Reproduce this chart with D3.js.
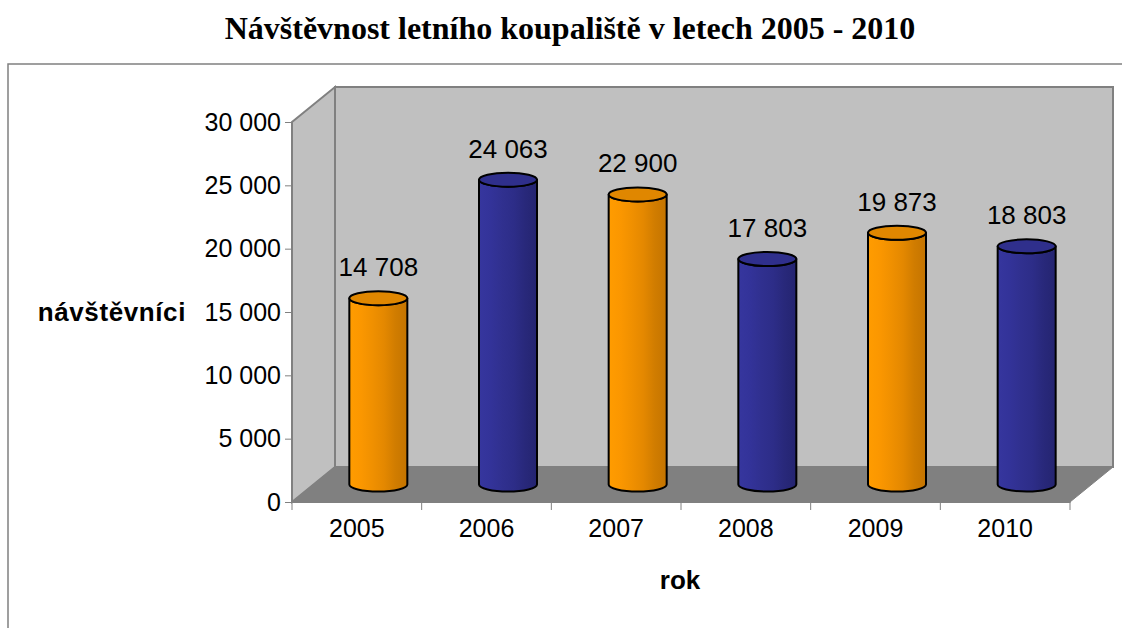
<!DOCTYPE html>
<html>
<head>
<meta charset="utf-8">
<script src="https://cdn.jsdelivr.net/npm/d3@7"></script>
<style>
  body { margin: 0; background: #fff; }
  svg { display: block; font-family: "Liberation Sans", Arial, sans-serif; }
</style>
</head>
<body>
<svg id="chart" width="1122" height="628"></svg>
<script>
/************** Data **************/
const years = ["2005", "2006", "2007", "2008", "2009", "2010"];
const visitors = [14708, 24063, 22900, 17803, 19873, 18803];
const yTicks = [0, 5000, 10000, 15000, 20000, 25000, 30000];
const seriesColor = ["orange", "blue", "orange", "blue", "orange", "blue"];

const titleText = "Návštěvnost letního koupaliště v letech 2005 - 2010";
const yTitle = "návštěvníci";
const xTitle = "rok";

/************** Layout **************/
const svg = d3.select("#chart");
const front = { left: 292, right: 1070, top: 122, bottom: 502 };
const depth = { dx: 43, dy: -35 };   // back wall offset
const cylR = 29, cylRy = 7;

const x = d3.scaleBand().domain(years).range([front.left, front.right]).padding(0);
const y = d3.scaleLinear().domain([0, 30000]).range([front.bottom, front.top]);
const fmt = v => d3.format(",")(v).replace(/,/g, " ");

// gradients for cylinder sides
const defs = svg.append("defs");
const palettes = {
  orange: { stops: ["#ff9c00", "#fb9700", "#f09000", "#e48800", "#d07c00", "#c47400"], top: "#e08700" },
  blue:   { stops: ["#36369e", "#333399", "#30308f", "#2d2d88", "#28287a", "#242470"], top: "#2f2f8c" }
};
Object.entries(palettes).forEach(([k, p]) => {
  const g = defs.append("linearGradient").attr("id", "grad-" + k)
    .attr("x1", "0%").attr("x2", "100%").attr("y1", "0%").attr("y2", "0%");
  p.stops.forEach((c, i) => g.append("stop")
    .attr("offset", (i / (p.stops.length - 1) * 100) + "%").attr("stop-color", c));
});

// outer frame
svg.append("rect").attr("x", 8).attr("y", 64).attr("width", 1130).attr("height", 600)
  .attr("fill", "none").attr("stroke", "#808080").attr("stroke-width", 1.5);

// title
svg.append("text")
  .attr("x", 570).attr("y", 39).attr("text-anchor", "middle")
  .style("font-family", "'Liberation Serif', 'Times New Roman', serif")
  .style("font-weight", "bold").style("font-size", "32px")
  .text(titleText);

/************** Walls & floor **************/
const wallStroke = "#808080";
const bx = v => v + depth.dx, by = v => v + depth.dy;

// back wall
svg.append("polygon")
  .attr("points", [[bx(front.left), by(front.top)], [bx(front.right), by(front.top)],
                   [bx(front.right), by(front.bottom)], [bx(front.left), by(front.bottom)]].join(" "))
  .attr("fill", "#c0c0c0").attr("stroke", wallStroke).attr("stroke-width", 2);

// side wall
svg.append("polygon")
  .attr("points", [[front.left, front.top], [bx(front.left), by(front.top)],
                   [bx(front.left), by(front.bottom)], [front.left, front.bottom]].join(" "))
  .attr("fill", "#c0c0c0").attr("stroke", wallStroke).attr("stroke-width", 2);

// floor
svg.append("polygon")
  .attr("points", [[front.left, front.bottom], [bx(front.left), by(front.bottom)],
                   [bx(front.right), by(front.bottom)], [front.right, front.bottom]].join(" "))
  .attr("fill", "#808080").attr("stroke", wallStroke).attr("stroke-width", 1);

/************** Axes **************/
const yAxis = svg.append("g").attr("transform", `translate(${front.left},0)`)
  .call(d3.axisLeft(y).tickValues(yTicks).tickFormat(fmt).tickSize(7).tickPadding(4));
yAxis.select(".domain").attr("stroke", "#808080").attr("stroke-width", 1);
yAxis.selectAll(".tick line").attr("stroke", "#808080");
yAxis.selectAll(".tick text").style("font-size", "25px").attr("fill", "#000")
  .style("font-family", "'Liberation Sans', Arial, sans-serif");

const xAxis = svg.append("g").attr("transform", `translate(0,${front.bottom})`)
  .call(d3.axisBottom(x).tickSize(0).tickPadding(17));
xAxis.select(".domain").attr("stroke", "#808080").attr("stroke-width", 1);
xAxis.selectAll(".tick text").style("font-size", "25px").attr("fill", "#000")
  .style("font-family", "'Liberation Sans', Arial, sans-serif");
// category separators
xAxis.selectAll("line.sep")
  .data(years.map(d => x(d)).concat([front.right]))
  .join("line").attr("class", "sep")
  .attr("x1", d => d).attr("x2", d => d).attr("y1", 0).attr("y2", 8)
  .attr("stroke", "#808080");

// axis titles
svg.append("text").attr("x", 186).attr("y", 312).attr("text-anchor", "end")
  .attr("dominant-baseline", "central").style("letter-spacing", "0.6px")
  .style("font-weight", "bold").style("font-size", "26px").text(yTitle);
svg.append("text").attr("x", 680).attr("y", 589).attr("text-anchor", "middle")
  .style("font-weight", "bold").style("font-size", "26px").text(xTitle);

/************** Cylinders **************/
const mid = { dx: depth.dx / 2, dy: depth.dy / 2 };
const data = years.map((yr, i) => ({ yr, v: visitors[i], c: seriesColor[i] }));

const cyl = svg.append("g").selectAll("g.cyl").data(data).join("g").attr("class", "cyl");

cyl.each(function (d) {
  const g = d3.select(this);
  const cx = x(d.yr) + x.bandwidth() / 2 + mid.dx;
  const yb = y(0) + mid.dy;
  const yt = y(d.v) + mid.dy;
  const l = cx - cylR, r = cx + cylR;
  g.append("path")
    .attr("d", `M${l},${yt} L${l},${yb} A${cylR},${cylRy} 0 0 0 ${r},${yb} L${r},${yt} A${cylR},${cylRy} 0 0 1 ${l},${yt} Z`)
    .attr("fill", `url(#grad-${d.c})`).attr("stroke", "#000").attr("stroke-width", 2)
    .attr("stroke-linejoin", "round");
  g.append("ellipse").attr("cx", cx).attr("cy", yt).attr("rx", cylR).attr("ry", cylRy)
    .attr("fill", palettes[d.c].top).attr("stroke", "#000").attr("stroke-width", 2);
  g.append("text").attr("x", cx).attr("y", yt - 22).attr("text-anchor", "middle")
    .style("font-size", "26px").attr("fill", "#000").text(fmt(d.v));
});
</script>
</body>
</html>
